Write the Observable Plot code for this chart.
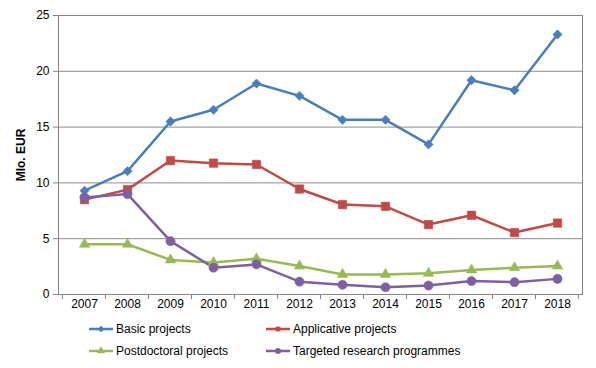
<!DOCTYPE html>
<html><head><meta charset="utf-8">
<script src="https://cdn.jsdelivr.net/npm/d3@7"></script>
<script src="https://cdn.jsdelivr.net/npm/@observablehq/plot@0.6"></script>
<style>
body{margin:0;background:#fff;font-family:"Liberation Sans",Arial,sans-serif;}
#legend{position:relative;height:58px;font-size:12px;color:#000;}
.item{position:absolute;display:flex;align-items:center;height:20px;}
.item svg{margin-right:2px;}
</style>
</head><body><div id="chart"></div><div id="legend"></div>
<script>
const years = [2007, 2008, 2009, 2010, 2011, 2012, 2013, 2014, 2015, 2016, 2017, 2018];
const basic = [9.3, 11.05, 15.5, 16.55, 18.9, 17.8, 15.65, 15.65, 13.45, 19.2, 18.3, 23.3];
const applicative = [8.5, 9.4, 12.0, 11.77, 11.65, 9.45, 8.06, 7.9, 6.27, 7.1, 5.55, 6.4];
const postdoctoral = [4.5, 4.5, 3.1, 2.87, 3.2, 2.55, 1.8, 1.8, 1.9, 2.2, 2.4, 2.55];
const targeted = [8.7, 9.0, 4.78, 2.4, 2.7, 1.15, 0.87, 0.65, 0.8, 1.2, 1.1, 1.4];
const seriesNames = ["Basic projects", "Applicative projects", "Postdoctoral projects", "Targeted research programmes"];
const seriesValues = [basic, applicative, postdoctoral, targeted];
const colors = ["#4A7EBB", "#BE4B48", "#98B954", "#7D60A0"];
const symbols = ["diamond2", "square2", "triangle", "circle"];
const radii = [4.2, 5.4, 3.9, 4.6];
const yTicks = [0, 5, 10, 15, 20, 25];

const rows = [];
seriesValues.forEach((vals, s) => vals.forEach((v, i) => rows.push({series: seriesNames[s], year: years[i], value: v, s})));

const marks = [
  Plot.ruleY(yTicks.filter(d => d > 0), {stroke: "#8c8c8c", strokeWidth: 1}),
  Plot.frame({stroke: "#868686", strokeWidth: 1}),
  Plot.axisY({ticks: yTicks, tickSize: 5, tickPadding: 4, stroke: "#868686", fontSize: 12, label: "Mlo. EUR", labelAnchor: "center", labelArrow: "none", labelOffset: 42}),
  Plot.axisX({tickSize: 0, tickPadding: 5, fontSize: 12, label: null, tickFormat: d => String(d)}),
];
seriesNames.forEach((name, s) => {
  const data = rows.filter(r => r.s === s);
  marks.push(Plot.lineY(data, {x: "year", y: "value", stroke: colors[s], strokeWidth: 2.5}));
});
seriesNames.forEach((name, s) => {
  const data = rows.filter(r => r.s === s);
  marks.push(Plot.dot(data, {x: "year", y: "value", symbol: () => symbols[s], r: radii[s], fill: colors[s], stroke: colors[s], strokeWidth: 0.5}));
});

const chart = Plot.plot({
  width: 596, height: 310,
  marginLeft: 58, marginRight: 14, marginTop: 15, marginBottom: 16,
  style: {fontFamily: "'Liberation Sans', Arial, sans-serif", fontSize: "12px", color: "#000", background: "#fff"},
  x: {type: "point", domain: years, padding: 0.5},
  y: {domain: [0, 25]},
  symbol: {type: "identity"},
  marks
});
document.getElementById("chart").appendChild(chart);

// category boundary ticks on the x axis
const svg = d3.select(chart);
svg.selectAll("g[aria-label='y-axis label'] text").attr("font-weight", "bold");
const xs = chart.scale("x");
const step = xs.apply(years[1]) - xs.apply(years[0]);
const yS = chart.scale("y");
const y0 = yS.apply(0);
const bounds = years.map(y => xs.apply(y) - step / 2).concat([xs.apply(years[years.length - 1]) + step / 2]);
svg.append("g").selectAll("line").data(bounds).join("line")
  .attr("x1", d => d).attr("x2", d => d).attr("y1", y0).attr("y2", y0 + 5)
  .attr("stroke", "#868686");

// legend
const legend = document.getElementById("legend");
const pos = [[88, 19], [265, 19], [88, 41], [265, 41]];
seriesNames.forEach((name, s) => {
  const div = document.createElement("div");
  div.className = "item";
  div.style.left = pos[s][0] + "px";
  div.style.top = (pos[s][1] - 10) + "px";
  const sym = {diamond2: d3.symbolDiamond2, square2: d3.symbolSquare2, triangle: d3.symbolTriangle, circle: d3.symbolCircle}[symbols[s]];
  const path = d3.symbol(sym, 28)();
  div.innerHTML = `<svg width="26" height="20"><line x1="1" x2="25" y1="10" y2="10" stroke="${colors[s]}" stroke-width="2.5"/><path d="${path}" transform="translate(13,10)" fill="${colors[s]}"/></svg><span>${name}</span>`;
  legend.appendChild(div);
});
</script>
</body></html>
